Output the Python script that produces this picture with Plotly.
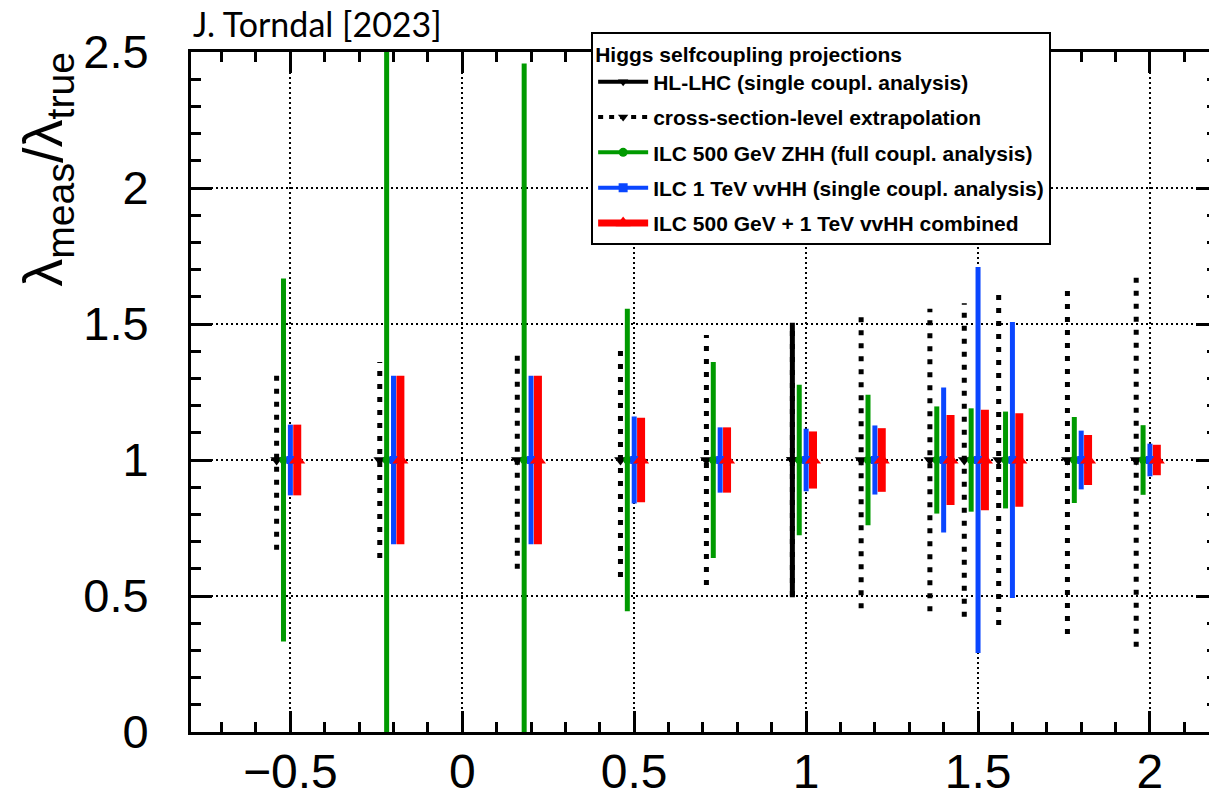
import plotly.graph_objects as go

# ---- data ----
lam_true = [-0.5, -0.2, 0.2, 0.5, 0.75, 1.0, 1.2, 1.4, 1.5, 1.6, 1.8, 2.0]
meas = [1.0, 1.0, 1.0, 1.0, 1.0, 1.0, 1.0, 1.0, 1.0, 1.0, 1.0, 1.0]
xsec_err = [0.33, 0.36, 0.40, 0.43, 0.46, 0.50, 0.545, 0.556, 0.576, 0.607, 0.64, 0.687]
hllhc_lam = [1.0]
hllhc_meas = [1.0]
hllhc_err = [0.505]
zhh_err = [0.667, 2.0, 1.458, 0.556, 0.36, 0.277, 0.24, 0.197, 0.19, 0.178, 0.158, 0.128]
vvhh_err = [0.13, 0.31, 0.31, 0.16, 0.12, 0.115, 0.127, 0.267, 0.71, 0.507, 0.108, 0.06]
comb_err = [0.13, 0.31, 0.31, 0.155, 0.12, 0.105, 0.117, 0.165, 0.185, 0.172, 0.092, 0.056]

names = ["HL-LHC (single coupl. analysis)",
         "cross-section-level extrapolation",
         "ILC 500 GeV ZHH (full coupl. analysis)",
         "ILC 1 TeV vvHH (single coupl. analysis)",
         "ILC 500 GeV + 1 TeV vvHH combined"]
legend_title = "Higgs selfcoupling projections"
credit = "J. Torndal [2023]"

GREEN = "#009a00"
BLUE = "#0a46ff"
RED = "#ff0000"
BLACK = "#000000"


def segs(xs, ys, errs, off):
    X, Y = [], []
    for x, y, e in zip(xs, ys, errs):
        X += [x + off, x + off, None]
        Y += [y - e, y + e, None]
    return X, Y


def shift(xs, off):
    return [x + off for x in xs]


fig = go.Figure()

series = [
    # x, y, err, offset, color, width, dash, symbol, size
    (lam_true, meas, xsec_err, -0.04, BLACK, 5, "5px,8px", "triangle-down", 11),
    (hllhc_lam, hllhc_meas, hllhc_err, -0.04, BLACK, 5, "solid", "triangle-down", 11),
    (lam_true, meas, zhh_err, -0.02, GREEN, 5, "solid", "circle", 8),
    (lam_true, meas, vvhh_err, 0.0, BLUE, 5, "solid", "square", 8),
    (lam_true, meas, comb_err, 0.02, RED, 8, "solid", "triangle-up", 14),
]

for xs, ys, es, off, col, w, dash, sym, sz in series:
    X, Y = segs(xs, ys, es, off)
    fig.add_trace(go.Scatter(x=X, y=Y, mode="lines", showlegend=False,
                             line=dict(color=col, width=w, dash=dash),
                             hoverinfo="skip"))
for xs, ys, es, off, col, w, dash, sym, sz in series:
    fig.add_trace(go.Scatter(x=shift(xs, off), y=ys, mode="markers", showlegend=False,
                             marker=dict(symbol=sym, size=sz, color=col, line=dict(width=0))))

# legend-only entries (order as in reference legend)
leg = [
    (names[0], BLACK, 4, "solid", "triangle-down", 9),
    (names[1], BLACK, 4, "5px,6px", "triangle-down", 9),
    (names[2], GREEN, 4, "solid", "circle", 9),
    (names[3], BLUE, 4, "solid", "square", 9),
    (names[4], RED, 7, "solid", "triangle-up", 13),
]
for i, (nm, col, w, dash, sym, sz) in enumerate(leg):
    fig.add_trace(go.Scatter(x=[None], y=[None], mode="lines+markers", name=nm,
                             legendgroup=str(i),
                             line=dict(color=col, width=w, dash=dash),
                             marker=dict(symbol=sym, size=sz, color=col)))

axis_common = dict(
    showline=True, linecolor="black", linewidth=3, mirror="allticks",
    ticks="inside", ticklen=21, tickwidth=2.5, tickcolor="black",
    showgrid=True, gridcolor="black", gridwidth=1.5, griddash="2px,3px",
    zeroline=False, automargin=False,
    minor=dict(ticks="inside", ticklen=10, tickwidth=2.5, tickcolor="black",
               dtick=0.1, showgrid=False),
)

fig.update_xaxes(range=[-0.789, 2.195], tickmode="array",
                 tickvals=[-0.5, 0, 0.5, 1, 1.5, 2],
                 ticktext=["\u22120.5", "0", "0.5", "1", "1.5", "2"],
                 tickfont=dict(family="Liberation Sans", size=48, color="black"),
                 ticklabelstandoff=-5,
                 **axis_common)
fig.update_yaxes(range=[0, 2.5], tickmode="array",
                 tickvals=[0, 0.5, 1, 1.5, 2, 2.5],
                 ticktext=["0", "0.5", "1", "1.5", "2", "2.5"],
                 tickfont=dict(family="Liberation Sans", size=47, color="black"),
                 ticklabelstandoff=30,
                 **axis_common)

fig.add_annotation(xref="paper", yref="paper", x=-0.141, y=1.0, yshift=2,
                   xanchor="center", yanchor="top", textangle=-90,
                   text="\u03bb<sub>meas</sub>/\u03bb<sub>true</sub>",
                   showarrow=False,
                   font=dict(family="Liberation Sans", size=56, color="black"))
fig.add_annotation(xref="paper", yref="paper", x=0.0, y=1.0, yshift=6,
                   xanchor="left", yanchor="bottom", text=credit, showarrow=False,
                   font=dict(family="Lato", size=34, color="black"))

# page body has an 8px default margin -> figure drawn offset by (8, 8)
fig.update_layout(
    width=1217, height=793,
    margin=dict(l=183, r=8, t=44, b=69),
    plot_bgcolor="white", paper_bgcolor="white",
    legend=dict(
        x=0.39, y=1.029, xanchor="left", yanchor="top",
        bgcolor="white", bordercolor="black", borderwidth=2,
        font=dict(family="Liberation Sans", size=21, color="black", weight="bold"),
        title=dict(text=legend_title,
                   font=dict(family="Liberation Sans", size=21, color="black", weight="bold")),
        tracegroupgap=5, itemwidth=50,
    ),
)

fig.write_html("out.html")
